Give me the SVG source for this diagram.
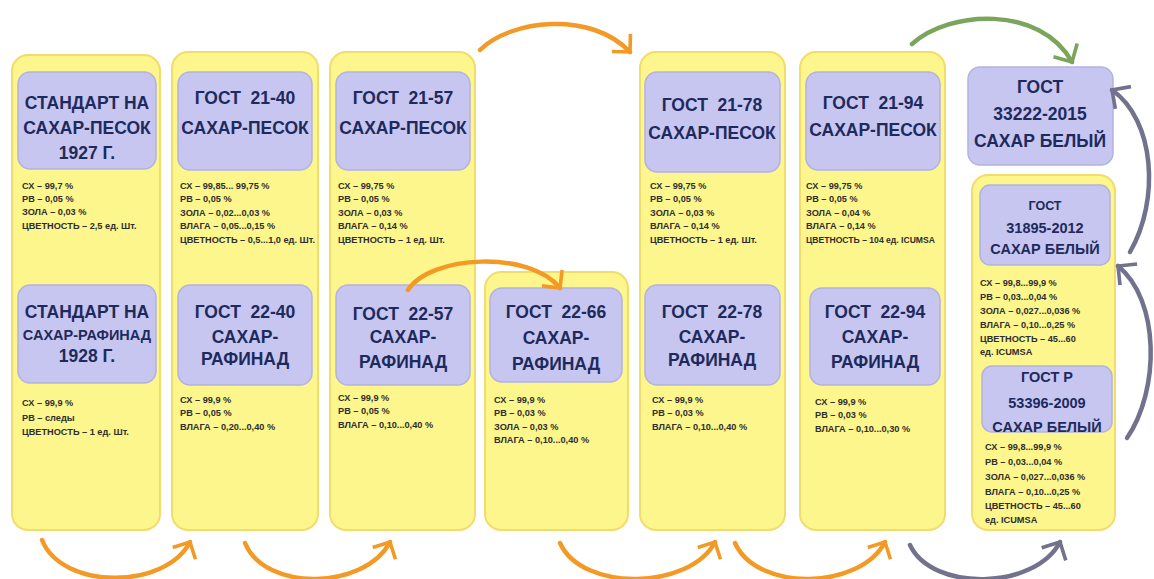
<svg xmlns="http://www.w3.org/2000/svg" width="1154" height="579" viewBox="0 0 1154 579">
<defs>
<style>
.pan{fill:#FDF68C;stroke:#F2DC6C;stroke-width:2}
.box{fill:#C7C6F1;stroke:#B3B2E0;stroke-width:1.5}
.h{font-family:"Liberation Sans",Arial,sans-serif;font-weight:bold;font-size:17.5px;fill:#1E2A5C;text-anchor:middle}
.h2{font-family:"Liberation Sans",Arial,sans-serif;font-weight:bold;font-size:14.5px;fill:#1E2A5C;text-anchor:middle}
.s{font-family:"Liberation Sans",Arial,sans-serif;font-weight:bold;font-size:9.2px;fill:#2E2E2E}
.ao{fill:none;stroke:#F39A26;stroke-width:4.5;stroke-linecap:round}
.ag{fill:none;stroke:#7AA55A;stroke-width:4.5;stroke-linecap:round}
.ay{fill:none;stroke:#72728E;stroke-width:4.5;stroke-linecap:round}
</style>
<marker id="mo" markerUnits="userSpaceOnUse" markerWidth="40" markerHeight="40" refX="0" refY="0" orient="auto" overflow="visible" viewBox="-25 -25 30 50"><path d="M-16,-16 L0,0 L-16,16" fill="none" stroke="#F39A26" stroke-width="4.5"/></marker>
<marker id="mg" markerUnits="userSpaceOnUse" markerWidth="40" markerHeight="40" refX="0" refY="0" orient="auto" overflow="visible" viewBox="-25 -25 30 50"><path d="M-17,-17 L0,0 L-17,17" fill="none" stroke="#7AA55A" stroke-width="4.5"/></marker>
<marker id="my" markerUnits="userSpaceOnUse" markerWidth="40" markerHeight="40" refX="0" refY="0" orient="auto" overflow="visible" viewBox="-25 -25 30 50"><path d="M-17,-17 L0,0 L-17,17" fill="none" stroke="#72728E" stroke-width="4.5"/></marker>
</defs>
<rect width="1154" height="579" fill="#FFFFFF"/>

<g id="col1">
<rect class="pan" x="12" y="55" width="148" height="475" rx="16"/>
<g id="n1927">
<rect class="box" x="18" y="72" width="138" height="97" rx="12"/>
<text class="h" x="87" y="109">СТАНДАРТ НА</text>
<text class="h" x="87" y="134">САХАР-ПЕСОК</text>
<text class="h" x="87" y="159">1927 Г.</text>
</g>
<text class="s" x="22" y="189">СХ – 99,7 %</text>
<text class="s" x="22" y="202">РВ – 0,05 %</text>
<text class="s" x="22" y="215">ЗОЛА – 0,03 %</text>
<text class="s" x="22" y="229">ЦВЕТНОСТЬ – 2,5 ед. Шт.</text>
<g id="n1928">
<rect class="box" x="18" y="285" width="138" height="98" rx="12"/>
<text class="h" x="87" y="318">СТАНДАРТ НА</text>
<text class="h2" x="87" y="340">САХАР-РАФИНАД</text>
<text class="h" x="87" y="362">1928 Г.</text>
</g>
<text class="s" x="22" y="406">СХ – 99,9 %</text>
<text class="s" x="22" y="421">РВ – следы</text>
<text class="s" x="22" y="435">ЦВЕТНОСТЬ – 1 ед. Шт.</text>
</g>

<g id="col2">
<rect class="pan" x="172" y="52" width="146" height="478" rx="16"/>
<g id="g2140">
<rect class="box" x="178" y="72" width="134" height="98" rx="12"/>
<text class="h" x="245" y="104" xml:space="preserve">ГОСТ  21-40</text>
<text class="h" x="245" y="134">САХАР-ПЕСОК</text>
</g>
<text class="s" x="180" y="189">СХ – 99,85... 99,75 %</text>
<text class="s" x="180" y="202">РВ – 0,05 %</text>
<text class="s" x="180" y="216">ЗОЛА – 0,02...0,03 %</text>
<text class="s" x="180" y="229">ВЛАГА – 0,05...0,15 %</text>
<text class="s" x="180" y="243">ЦВЕТНОСТЬ – 0,5...1,0 ед. Шт.</text>
<g id="g2240">
<rect class="box" x="178" y="285" width="134" height="100" rx="12"/>
<text class="h" x="245" y="318" xml:space="preserve">ГОСТ  22-40</text>
<text class="h" x="245" y="343">САХАР-</text>
<text class="h" x="245" y="365">РАФИНАД</text>
</g>
<text class="s" x="180" y="403">СХ – 99,9 %</text>
<text class="s" x="180" y="416">РВ – 0,05 %</text>
<text class="s" x="180" y="430">ВЛАГА – 0,20...0,40 %</text>
</g>

<g id="col3">
<rect class="pan" x="330" y="52" width="145" height="478" rx="16"/>
<g id="g2157">
<rect class="box" x="336" y="72" width="134" height="98" rx="12"/>
<text class="h" x="403" y="104" xml:space="preserve">ГОСТ  21-57</text>
<text class="h" x="403" y="134">САХАР-ПЕСОК</text>
</g>
<text class="s" x="338" y="189">СХ – 99,75 %</text>
<text class="s" x="338" y="202">РВ – 0,05 %</text>
<text class="s" x="338" y="216">ЗОЛА – 0,03 %</text>
<text class="s" x="338" y="229">ВЛАГА – 0,14 %</text>
<text class="s" x="338" y="243">ЦВЕТНОСТЬ – 1 ед. Шт.</text>
<g id="g2257">
<rect class="box" x="336" y="285" width="134" height="100" rx="12"/>
<text class="h" x="403" y="320" xml:space="preserve">ГОСТ  22-57</text>
<text class="h" x="403" y="343">САХАР-</text>
<text class="h" x="403" y="368">РАФИНАД</text>
</g>
<text class="s" x="338" y="401">СХ – 99,9 %</text>
<text class="s" x="338" y="414">РВ – 0,05 %</text>
<text class="s" x="338" y="428">ВЛАГА – 0,10...0,40 %</text>
</g>

<g id="col4">
<rect class="pan" x="485" y="272" width="143" height="258" rx="16"/>
<g id="g2266">
<rect class="box" x="490" y="288" width="132" height="94" rx="12"/>
<text class="h" x="556" y="318" xml:space="preserve">ГОСТ  22-66</text>
<text class="h" x="556" y="344">САХАР-</text>
<text class="h" x="556" y="370">РАФИНАД</text>
</g>
<text class="s" x="494" y="403">СХ – 99,9 %</text>
<text class="s" x="494" y="416">РВ – 0,03 %</text>
<text class="s" x="494" y="430">ЗОЛА – 0,03 %</text>
<text class="s" x="494" y="443">ВЛАГА – 0,10...0,40 %</text>
</g>

<g id="col5">
<rect class="pan" x="640" y="52" width="145" height="478" rx="16"/>
<g id="g2178">
<rect class="box" x="645" y="72" width="135" height="100" rx="12"/>
<text class="h" x="712" y="111" xml:space="preserve">ГОСТ  21-78</text>
<text class="h" x="712" y="139">САХАР-ПЕСОК</text>
</g>
<text class="s" x="650" y="189">СХ – 99,75 %</text>
<text class="s" x="650" y="202">РВ – 0,05 %</text>
<text class="s" x="650" y="216">ЗОЛА – 0,03 %</text>
<text class="s" x="650" y="229">ВЛАГА – 0,14 %</text>
<text class="s" x="650" y="243">ЦВЕТНОСТЬ – 1 ед. Шт.</text>
<g id="g2278">
<rect class="box" x="645" y="285" width="135" height="100" rx="12"/>
<text class="h" x="712" y="318" xml:space="preserve">ГОСТ  22-78</text>
<text class="h" x="712" y="343">САХАР-</text>
<text class="h" x="712" y="366">РАФИНАД</text>
</g>
<text class="s" x="652" y="403">СХ – 99,9 %</text>
<text class="s" x="652" y="416">РВ – 0,03 %</text>
<text class="s" x="652" y="430">ВЛАГА – 0,10...0,40 %</text>
</g>

<g id="col6">
<rect class="pan" x="800" y="52" width="145" height="478" rx="16"/>
<g id="g2194">
<rect class="box" x="806" y="72" width="134" height="98" rx="12"/>
<text class="h" x="873" y="109" xml:space="preserve">ГОСТ  21-94</text>
<text class="h" x="873" y="136">САХАР-ПЕСОК</text>
</g>
<text class="s" x="806" y="189">СХ – 99,75 %</text>
<text class="s" x="806" y="202">РВ – 0,05 %</text>
<text class="s" x="806" y="216">ЗОЛА – 0,04 %</text>
<text class="s" x="806" y="229">ВЛАГА – 0,14 %</text>
<text class="s" x="806" y="243" style="font-size:8.6px">ЦВЕТНОСТЬ – 104 ед. ICUMSA</text>
<g id="g2294">
<rect class="box" x="810" y="288" width="130" height="97" rx="12"/>
<text class="h" x="875" y="318" xml:space="preserve">ГОСТ  22-94</text>
<text class="h" x="875" y="343">САХАР-</text>
<text class="h" x="875" y="368">РАФИНАД</text>
</g>
<text class="s" x="815" y="405">СХ – 99,9 %</text>
<text class="s" x="815" y="418">РВ – 0,03 %</text>
<text class="s" x="815" y="432">ВЛАГА – 0,10...0,30 %</text>
</g>

<g id="g33222">
<rect class="box" x="968" y="67" width="145" height="98" rx="12"/>
<text class="h" x="1040" y="93">ГОСТ</text>
<text class="h" x="1040" y="120">33222-2015</text>
<text class="h" x="1040" y="147">САХАР БЕЛЫЙ</text>
</g>

<g id="col7">
<rect class="pan" x="972" y="175" width="143" height="355" rx="16"/>
<g id="g31895">
<rect class="box" x="980" y="185" width="130" height="80" rx="10"/>
<text class="h2" x="1045" y="210" style="font-size:12.5px">ГОСТ</text>
<text class="h2" x="1045" y="233">31895-2012</text>
<text class="h2" x="1045" y="254">САХАР БЕЛЫЙ</text>
</g>
<text class="s" x="980" y="286">СХ – 99,8...99,9 %</text>
<text class="s" x="980" y="300">РВ – 0,03...0,04 %</text>
<text class="s" x="980" y="314">ЗОЛА – 0,027...0,036 %</text>
<text class="s" x="980" y="328">ВЛАГА – 0,10...0,25 %</text>
<text class="s" x="980" y="342">ЦВЕТНОСТЬ – 45...60</text>
<text class="s" x="980" y="355">ед. ICUMSA</text>
<g id="g53396">
<rect class="box" x="982" y="366" width="130" height="66" rx="10"/>
<text class="h2" x="1047" y="382">ГОСТ Р</text>
<text class="h2" x="1047" y="408">53396-2009</text>
<text class="h2" x="1047" y="432">САХАР БЕЛЫЙ</text>
</g>
<text class="s" x="985" y="450">СХ – 99,8...99,9 %</text>
<text class="s" x="985" y="465">РВ – 0,03...0,04 %</text>
<text class="s" x="985" y="480">ЗОЛА – 0,027...0,036 %</text>
<text class="s" x="985" y="495">ВЛАГА – 0,10...0,25 %</text>
<text class="s" x="985" y="509">ЦВЕТНОСТЬ – 45...60</text>
<text class="s" x="985" y="523">ед. ICUMSA</text>
</g>

<g id="connectors">
<path class="ao" d="M480,50 C510,20 590,10 630,52" marker-end="url(#mo)"/>
<path class="ao" d="M408,290 C430,255 530,250 560,288" marker-end="url(#mo)"/>
<path class="ao" d="M42,540 C62,590 165,590 190,542" marker-end="url(#mo)"/>
<path class="ao" d="M245,543 C265,592 365,590 390,542" marker-end="url(#mo)"/>
<path class="ao" d="M560,543 C582,592 690,590 715,542" marker-end="url(#mo)"/>
<path class="ao" d="M735,543 C757,592 860,590 885,542" marker-end="url(#mo)"/>
<path class="ay" d="M910,545 C932,592 1035,590 1060,542" marker-end="url(#my)"/>
<path class="ag" d="M912,44 C950,10 1040,5 1072,62" marker-end="url(#mg)"/>
<path class="ay" d="M1130,252 C1160,200 1155,120 1112,90" marker-end="url(#my)"/>
<path class="ay" d="M1127,438 C1160,390 1160,300 1118,266" marker-end="url(#my)"/>
</g>
</svg>
